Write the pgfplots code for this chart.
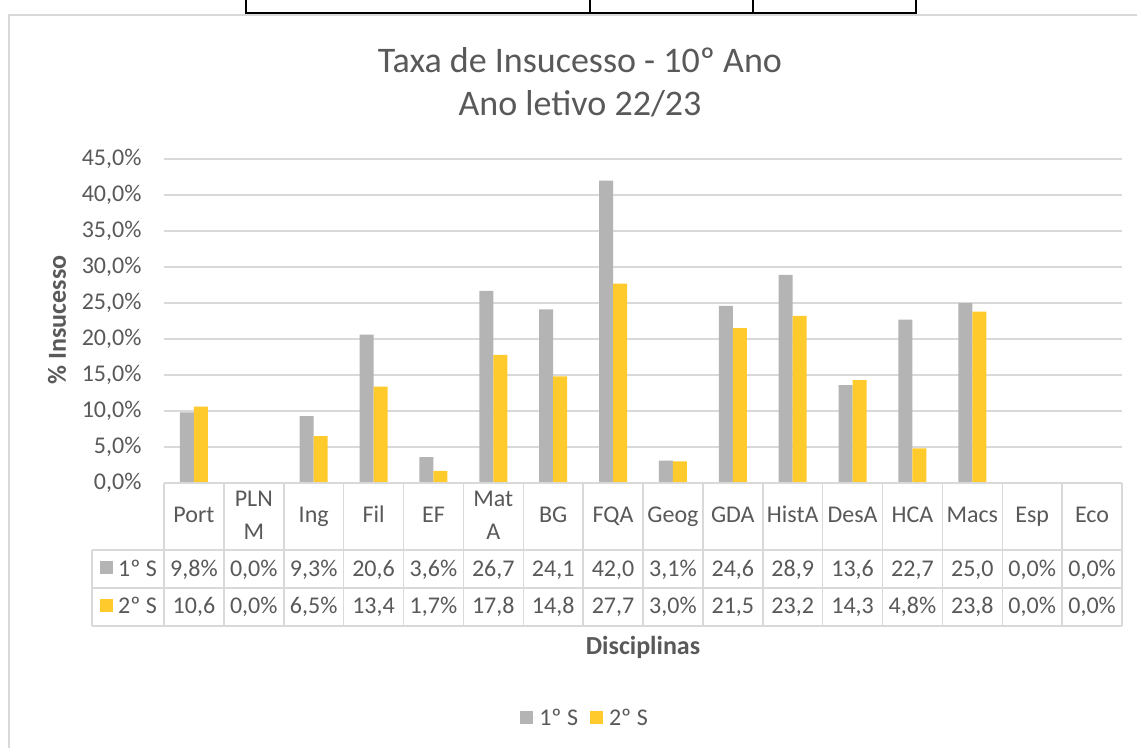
\documentclass[border=0pt]{standalone}
\usepackage{pgfplots}
\pgfplotsset{compat=1.18}
\usepackage{fontspec}
\setmainfont{Carlito}
\definecolor{txt}{HTML}{595959}
\definecolor{gridc}{HTML}{D9D9D9}
\definecolor{sg}{HTML}{B4B4B4}
\definecolor{sy}{HTML}{FFCA2C}
\newcommand\sm{\fontsize{24}{33}\selectfont}
\newcommand\cell[4]{%
  \pgfmathsetmacro\cx{164+59.875*(#1+0.5)}%
  \node[txt, align=center, font=\sm] at (\cx,231) {#2};
  \node[txt, font=\sm, anchor=base] at (\cx,171) {#3};
  \node[txt, font=\sm, anchor=base] at (\cx,134) {#4};
}
\begin{document}
\begin{tikzpicture}[x=1pt,y=1pt]
\clip (0,0) rectangle (1137,747);
\fill[white] (0,0) rectangle (1137,747);
% chart frame
\draw[gridc, line width=1.5pt] (9,-10) -- (9,732) -- (1150,732);
% fragment of table above
\draw[black, line width=1.3pt] (246,760) -- (246,734) -- (916,734) -- (916,760);
\draw[black, line width=1.3pt] (590,734)--(590,760) (753,734)--(753,760);

\begin{axis}[
  at={(164pt,264pt)}, anchor=south west,
  scale only axis, width=958pt, height=324pt,
  xmin=-0.5, xmax=15.5, ymin=0, ymax=45,
  ytick={0,5,...,45},
  ymajorgrids, grid style={gridc, line width=1.4pt},
  axis line style={draw=none},
  xtick=\empty,
  major tick length=0pt,
  ybar=0pt, bar width=14pt,
  clip=false,
  /pgf/number format/assume math mode=true,
  yticklabel={\pgfmathprintnumber[fixed,fixed zerofill,precision=1,use comma]{\tick}\%},
  yticklabel style={txt, font=\sm, xshift=-19pt},
  legend columns=2,
  legend style={at={(0.4395,-0.725)}, anchor=center, draw=none, fill=none,
    font=\sm, text=txt,
    /tikz/every even column/.append style={column sep=10pt}},
  legend image code/.code={\fill[#1] (0pt,-6.5pt) rectangle (13pt,6.5pt); \path (0pt,0pt) -- (17pt,0pt);},
]
\addplot[fill=sg, draw=none] coordinates {
 (0,9.8) (1,0) (2,9.3) (3,20.6) (4,3.6) (5,26.7) (6,24.1) (7,42.0)
 (8,3.1) (9,24.6) (10,28.9) (11,13.6) (12,22.7) (13,25.0) (14,0) (15,0)};
\addplot[fill=sy, draw=none] coordinates {
 (0,10.6) (1,0) (2,6.5) (3,13.4) (4,1.7) (5,17.8) (6,14.8) (7,27.7)
 (8,3.0) (9,21.5) (10,23.2) (11,14.3) (12,4.8) (13,23.8) (14,0) (15,0)};
\legend{1º S, 2º S}
\end{axis}

% data table grid
\foreach \k in {0,...,16} {
  \pgfmathsetmacro\xx{164+59.875*\k}
  \draw[gridc, line width=1.5pt] (\xx,264) -- (\xx,121);
}
\draw[gridc, line width=1.5pt] (164,264) -- (1122,264);
\draw[gridc, line width=1.5pt] (92,197) -- (1122,197);
\draw[gridc, line width=1.5pt] (92,159) -- (1122,159);
\draw[gridc, line width=1.5pt] (92,121) -- (1122,121);
\draw[gridc, line width=1.5pt] (92,197) -- (92,121);
% legend keys in table
\fill[sg] (100,172.5) rectangle (113,185.5);
\node[txt, anchor=base west, font=\sm, inner sep=0pt] at (118,171) {1º S};
\fill[sy] (100,135.5) rectangle (113,148.5);
\node[txt, anchor=base west, font=\sm, inner sep=0pt] at (118,134) {2º S};

\cell{0}{\strut Port}{9,8\%}{10,6}
\cell{1}{\strut PLN\\\strut M}{0,0\%}{0,0\%}
\cell{2}{\strut Ing}{9,3\%}{6,5\%}
\cell{3}{\strut Fil}{20,6}{13,4}
\cell{4}{\strut EF}{3,6\%}{1,7\%}
\cell{5}{\strut Mat\\\strut A}{26,7}{17,8}
\cell{6}{\strut BG}{24,1}{14,8}
\cell{7}{\strut FQA}{42,0}{27,7}
\cell{8}{\strut Geog}{3,1\%}{3,0\%}
\cell{9}{\strut GDA}{24,6}{21,5}
\cell{10}{\strut HistA}{28,9}{23,2}
\cell{11}{\strut DesA}{13,6}{14,3}
\cell{12}{\strut HCA}{22,7}{4,8\%}
\cell{13}{\strut Macs}{25,0}{23,8}
\cell{14}{\strut Esp}{0,0\%}{0,0\%}
\cell{15}{\strut Eco}{0,0\%}{0,0\%}

% titles
\node[txt, font=\fontsize{36}{42}\selectfont] at (580,687) {Taxa de Insucesso - 10º Ano};
\node[txt, font=\fontsize{36}{42}\selectfont] at (580,643) {Ano letivo 22/23};
\node[txt, rotate=90, font=\bfseries\fontsize{26}{30}\selectfont] at (57,427) {\% Insucesso};
\node[txt, font=\bfseries\fontsize{26}{30}\selectfont] at (643,100) {Disciplinas};
\end{tikzpicture}
\end{document}
